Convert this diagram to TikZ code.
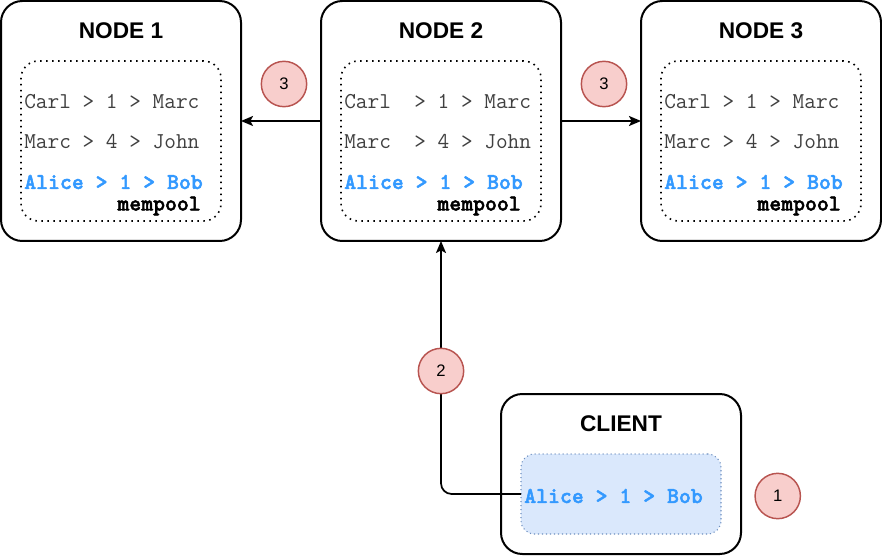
\documentclass[tikz,border=0pt]{standalone}
\usepackage{fontspec}
\setmainfont{Liberation Sans}
\setsansfont{Liberation Sans}
\newfontfamily\heavymono[FakeBold=2]{lmmonolt10-bold.otf}
\usepackage{tikz}
\usetikzlibrary{arrows.meta, positioning, calc}
\definecolor{txtblue}{HTML}{3399FF}
\definecolor{txtgray}{HTML}{404040}
\definecolor{stepfill}{HTML}{F8CECC}
\definecolor{stepline}{HTML}{B85450}
\definecolor{poolfill}{HTML}{DAE8FC}
\definecolor{poolline}{HTML}{6C8EBF}

\begin{document}
\begin{tikzpicture}[>={Stealth[length=9pt,width=7.5pt,inset=2pt]}, node distance=60pt, every node/.style={font=\sffamily}]
    \tikzset{peer/.style={draw, line width=1.5pt, rounded corners=16pt, outer sep=0pt, minimum width=180pt, minimum height=180pt},
             pool/.style={draw, line width=1.2pt, dash pattern=on 1.2pt off 3.3pt, rounded corners=13pt, outer sep=0pt, minimum width=150pt, minimum height=120pt},
             title/.style={font=\sffamily\bfseries\fontsize{17pt}{17pt}\selectfont, inner sep=0pt},
             memtx/.style={font=\ttfamily\fontsize{17pt}{17pt}\selectfont, text=txtgray, inner sep=0pt, anchor=west},
             newtx/.style={memtx, text=txtblue, font=\heavymono\fontsize{17pt}{17pt}\selectfont},
             poolname/.style={font=\heavymono\fontsize{17pt}{17pt}\selectfont, inner sep=0pt, anchor=east},
             stepnum/.style={circle, draw=stepline, fill=stepfill, line width=1.1pt, minimum size=34pt, inner sep=0pt, font=\sffamily\fontsize{12.5pt}{12.5pt}\selectfont},
             link/.style={->, line width=1.3pt}}
    \useasboundingbox (0,0) rectangle (661.5pt,-417pt);
    % nodes
    \node[peer] (n1) at (90.75pt,-90.75pt) {};
    \node[peer, right=of n1] (n2) {};
    \node[peer, right=of n2] (n3) {};
    \node[peer, minimum height=120pt, anchor=north west] (client) at ([xshift=45pt,yshift=-114.75pt]n2.south) {};
    % titles
    \node[title] at ([yshift=-22pt]n1.north) {NODE 1};
    \node[title] at ([yshift=-22pt]n2.north) {NODE 2};
    \node[title] at ([yshift=-22pt]n3.north) {NODE 3};
    \node[title] at ([yshift=-22.5pt]client.north) {CLIENT};
    % mempools
    \node[pool] (p1) at ([yshift=-15pt]n1.center) {};
    \node[pool] (p2) at ([yshift=-15pt]n2.center) {};
    \node[pool] (p3) at ([yshift=-15pt]n3.center) {};
    \node[pool, draw=poolline, fill=poolfill, line width=0.8pt, dash pattern=on 0.8pt off 2.2pt, minimum height=60pt, rounded corners=10pt] (pc) at ([yshift=-15pt]client.center) {};
    % transactions
    \node[memtx] at ([xshift=2.25pt,yshift=29.25pt]p1.west) {Carl > 1 > Marc};
    \node[memtx] at ([xshift=2.25pt,yshift=-0.75pt]p1.west) {Marc > 4 > John};
    \node[newtx] at ([xshift=2.25pt,yshift=-30.75pt]p1.west) {Alice > 1 > Bob};
    \node[poolname] at ([xshift=-15pt,yshift=11.25pt]p1.south east) {mempool};
    \node[memtx] at ([xshift=2.25pt,yshift=29.25pt]p2.west) {Carl~~> 1 > Marc};
    \node[memtx] at ([xshift=2.25pt,yshift=-0.75pt]p2.west) {Marc~~> 4 > John};
    \node[newtx] at ([xshift=2.25pt,yshift=-30.75pt]p2.west) {Alice > 1 > Bob};
    \node[poolname] at ([xshift=-15pt,yshift=11.25pt]p2.south east) {mempool};
    \node[memtx] at ([xshift=2.25pt,yshift=29.25pt]p3.west) {Carl > 1 > Marc};
    \node[memtx] at ([xshift=2.25pt,yshift=-0.75pt]p3.west) {Marc > 4 > John};
    \node[newtx] at ([xshift=2.25pt,yshift=-30.75pt]p3.west) {Alice > 1 > Bob};
    \node[poolname] at ([xshift=-15pt,yshift=11.25pt]p3.south east) {mempool};
    \node[newtx] at ([xshift=2.25pt,yshift=-1.5pt]pc.west) {Alice > 1 > Bob};
    % client sends to node 2, node 2 relays to its peers
    \draw[link, rounded corners=8pt] (pc.west) -| (n2.south);
    \draw[link] (n2.west) -- (n1.east);
    \draw[link] (n2.east) -- (n3.east -| n3.west);
    % step markers
    \node[stepnum] at (213pt,-63pt) {3};
    \node[stepnum] at (453pt,-63pt) {3};
    \node[stepnum] at (330.75pt,-278.25pt) {2};
    \node[stepnum, right=10pt of client, yshift=-16.5pt] {1};
\end{tikzpicture}
\end{document}
